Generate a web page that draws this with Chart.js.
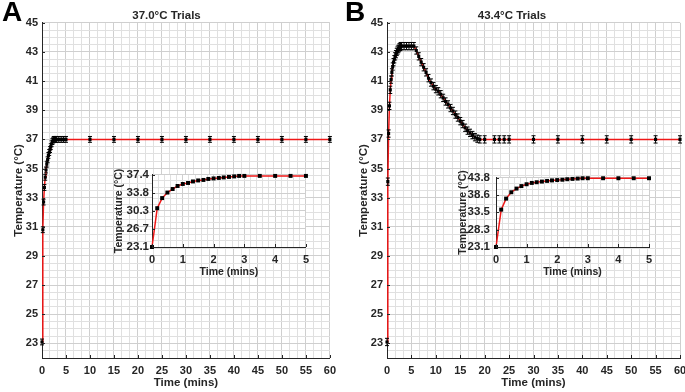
<!DOCTYPE html>
<html lang="en">
<head>
    <meta charset="UTF-8">
    <title>Temperature Trials</title>
    <style>
        body {
            margin: 0;
            background-color: #fff;
            overflow: hidden;
            width: 685px;
            height: 392px;
            position: relative;
            font-family: 'Liberation Sans', Arial, sans-serif;
        }
        .box {
            position: absolute;
        }
        .letter {
            position: absolute;
            font-weight: bold;
            font-size: 28px;
            line-height: 28px;
            color: #000;
        }
    </style>
</head>
<body>
    <div class="box" style="left:0;top:0;width:342px;height:392px"><canvas id="mainA"></canvas></div>
    <div class="box" style="left:344px;top:0;width:350px;height:392px"><canvas id="mainB"></canvas></div>
    <div class="box" style="left:100px;top:165px;width:215px;height:115px"><canvas id="insetA"></canvas></div>
    <div class="box" style="left:440px;top:165px;width:220px;height:115px"><canvas id="insetB"></canvas></div>
    <div class="letter" style="left:2px;top:-2px">A</div>
    <div class="letter" style="left:345px;top:-2px">B</div>

    <script src="https://cdn.jsdelivr.net/npm/chart.js"></script>
    <script>
        // tick labels
        const mainXTicks = [0, 5, 10, 15, 20, 25, 30, 35, 40, 45, 50, 55, 60];
        const mainYTicks = [23, 25, 27, 29, 31, 33, 35, 37, 39, 41, 43, 45];
        const insetXTicks = [0, 1, 2, 3, 4, 5];
        const insetYTicksA = [23.1, 26.7, 30.3, 33.8, 37.4];
        const insetYTicksB = [23.1, 28.3, 33.5, 38.6, 43.8];

        // panel A: 37.0 C trials (minutes, deg C)
        const timeA = [0, 0.17, 0.33, 0.5, 0.67, 0.83, 1, 1.17, 1.33, 1.5, 1.67, 1.83, 2, 2.17, 2.33, 2.5, 2.67, 2.83, 3,
            3.5, 4, 4.5, 5, 10, 15, 20, 25, 30, 35, 40, 45, 50, 55, 60];
        const tempA = [23.1, 30.8, 32.7, 33.7, 34.4, 34.9, 35.3, 35.6, 35.9, 36.1, 36.3, 36.5, 36.7, 36.85, 36.95, 37.0, 37.0, 37.0, 37.0,
            37.0, 37.0, 37.0, 37.0, 37.0, 37.0, 37.0, 37.0, 37.0, 37.0, 37.0, 37.0, 37.0, 37.0, 37.0];
        const errA = 0.2;

        const insetTimeA = [0, 0.17, 0.33, 0.5, 0.67, 0.83, 1, 1.17, 1.33, 1.5, 1.67, 1.83, 2, 2.17, 2.33, 2.5, 2.67, 2.83, 3, 3.5, 4, 4.5, 5];
        const insetTempA = [23.1, 30.8, 32.8, 33.9, 34.6, 35.2, 35.6, 35.8, 36.1, 36.3, 36.4, 36.6, 36.7, 36.8, 36.9, 37.0, 37.1, 37.2, 37.2,
            37.2, 37.2, 37.2, 37.2];

        // panel B: 43.4 C trials
        const timeB = [0, 0.17, 0.33, 0.5, 0.67, 0.83, 1, 1.17, 1.33, 1.5, 1.67, 1.83, 2, 2.17, 2.33, 2.5, 2.67, 2.83, 3,
            3.5, 4, 4.5, 5, 5.5,
            6, 6.5, 7, 7.5, 8, 8.5, 9, 9.5, 10, 10.5, 11, 11.5, 12, 12.5, 13, 13.5, 14, 14.5, 15, 15.5, 16, 16.5, 17, 17.5, 18, 18.5,
            19, 20, 22, 23, 24, 25, 30, 35, 40, 45, 50, 55, 60];
        const tempB = [23.1, 34.1, 37.4, 39.3, 40.4, 41.1, 41.6, 42.0, 42.3, 42.5, 42.7, 42.85, 43.0, 43.1, 43.2, 43.3, 43.35, 43.4, 43.4,
            43.4, 43.4, 43.4, 43.4, 43.4,
            43.1, 42.7, 42.3, 41.95, 41.6, 41.2, 40.9, 40.65, 40.45, 40.3, 40.1, 39.85, 39.6, 39.4, 39.15, 38.95, 38.7, 38.5, 38.25, 38.05,
            37.8, 37.6, 37.45, 37.3, 37.15, 37.05,
            37.0, 37.0, 37.0, 37.0, 37.0, 37.0, 37.0, 37.0, 37.0, 37.0, 37.0, 37.0, 37.0];
        const errB = 0.25;

        const insetTimeB = [0, 0.17, 0.33, 0.5, 0.67, 0.83, 1, 1.17, 1.33, 1.5, 1.67, 1.83, 2, 2.17, 2.33, 2.5, 2.67, 2.83, 3, 3.5, 4, 4.5, 5];
        const insetTempB = [23.1, 34.3, 37.6, 39.5, 40.6, 41.35, 41.9, 42.3, 42.5, 42.7, 42.9, 43.05, 43.15, 43.25, 43.4, 43.5, 43.6, 43.7, 43.7,
            43.7, 43.7, 43.7, 43.7];

        const INK = '#262626';
        const RED = '#f01818';
        Chart.defaults.font.family = "'Liberation Sans', Arial, sans-serif";
        Chart.defaults.font.weight = 'bold';
        Chart.defaults.color = INK;

        // major ticks plus n-1 minor ones in between (grid only), extended to min/max
        function withMinor(majors, n, min, max) {
            const out = [];
            const first = (majors[1] - majors[0]) / n;
            for (let v = majors[0] - first; v >= min - 1e-9; v -= first) out.unshift({value: v, maj: false});
            majors.forEach((m, i) => {
                out.push({value: m, maj: true});
                if (i < majors.length - 1) {
                    const step = (majors[i + 1] - m) / n;
                    for (let k = 1; k < n; k++) out.push({value: m + k * step, maj: false});
                }
            });
            const last = majors[majors.length - 1];
            const lastStep = (last - majors[majors.length - 2]) / n;
            for (let v = last + lastStep; v <= max + 1e-9; v += lastStep) out.push({value: v, maj: false});
            return out;
        }

        // error bars drawn through the chart scales
        const errorBars = {
            id: 'errorBars',
            afterDatasetsDraw(chart) {
                const {ctx, scales: {x, y}} = chart;
                chart.data.datasets.forEach(ds => {
                    if (!ds.err) return;
                    ctx.save();
                    ctx.strokeStyle = '#000';
                    ctx.lineWidth = 1;
                    ds.data.forEach(p => {
                        const px = x.getPixelForValue(p.x);
                        const top = y.getPixelForValue(p.y + ds.err);
                        const bot = y.getPixelForValue(p.y - ds.err);
                        ctx.beginPath();
                        ctx.moveTo(px, top); ctx.lineTo(px, bot);
                        ctx.moveTo(px - 2, top); ctx.lineTo(px + 2, top);
                        ctx.moveTo(px - 2, bot); ctx.lineTo(px + 2, bot);
                        ctx.stroke();
                    });
                    ctx.restore();
                });
            }
        };

        // small inward tick marks on the major ticks
        const inTicks = {
            id: 'inTicks',
            afterDraw(chart) {
                const {ctx, chartArea, scales: {x, y}} = chart;
                ctx.save();
                ctx.strokeStyle = INK;
                ctx.lineWidth = 1;
                ctx.beginPath();
                x.ticks.forEach(t => {
                    if (!t.maj) return;
                    const px = Math.round(x.getPixelForValue(t.value)) + 0.5;
                    ctx.moveTo(px, chartArea.bottom); ctx.lineTo(px, chartArea.bottom - 3);
                });
                y.ticks.forEach(t => {
                    if (!t.maj) return;
                    const py = Math.round(y.getPixelForValue(t.value)) + 0.5;
                    ctx.moveTo(chartArea.left, py); ctx.lineTo(chartArea.left + 3, py);
                });
                ctx.stroke();
                ctx.restore();
            }
        };

        // white plot area for the insets
        const whiteArea = {
            id: 'whiteArea',
            beforeDraw(chart) {
                const {ctx, chartArea: a} = chart;
                ctx.save();
                ctx.fillStyle = '#fff';
                ctx.fillRect(a.left, a.top, a.right - a.left, a.bottom - a.top);
                ctx.restore();
            }
        };

        function gridColor(c) {
            return c.tick && c.tick.maj ? '#cfcfcf' : '#e0e0e0';
        }

        function makeChart(id, o) {
            const data = o.time.map((t, i) => ({x: t, y: o.temp[i]}));
            return new Chart(document.getElementById(id), {
                type: 'line',
                data: {
                    datasets: [{
                        data: data,
                        err: o.err,
                        borderColor: RED,
                        borderWidth: 1.5,
                        pointStyle: 'rect',
                        pointRadius: o.pointR,
                        pointBackgroundColor: '#000',
                        pointBorderWidth: 0,
                        tension: 0,
                        clip: 6
                    }]
                },
                options: {
                    responsive: true,
                    maintainAspectRatio: false,
                    animation: false,
                    events: [],
                    layout: {padding: o.pad},
                    plugins: {
                        legend: {display: false},
                        tooltip: {enabled: false},
                        title: {
                            display: !!o.title,
                            text: o.title,
                            font: {size: 11.5, weight: 'bold'},
                            color: INK,
                            padding: {top: 9, bottom: 0}
                        }
                    },
                    scales: {
                        x: {
                            type: 'linear',
                            min: o.xMin, max: o.xMax,
                            afterBuildTicks: s => { s.ticks = withMinor(o.xTicks, o.xMinor, o.xMin, o.xMax); },
                            afterFit: s => { s.height = o.xH; },
                            ticks: {
                                autoSkip: false,
                                maxRotation: 0,
                                padding: 6,
                                font: {size: 11},
                                callback: (v, i, ticks) => ticks[i].maj ? String(Math.round(v)) : ''
                            },
                            grid: {color: gridColor, drawTicks: false, lineWidth: 1},
                            border: {color: INK, width: 1},
                            title: {
                                display: true,
                                text: 'Time (mins)',
                                font: {size: o.titleSize, weight: 'bold'},
                                padding: {top: 0, bottom: o.xTitlePad}
                            }
                        },
                        y: {
                            min: o.yMin, max: o.yMax,
                            afterBuildTicks: s => { s.ticks = withMinor(o.yTicks, o.yMinor, o.yMin, o.yMax); },
                            afterFit: s => { s.width = o.yW; },
                            ticks: {
                                autoSkip: false,
                                padding: o.yTickPad,
                                font: {size: o.yTickSize},
                                callback: (v, i, ticks) => ticks[i].maj ? o.fmt(v) : ''
                            },
                            grid: {color: gridColor, drawTicks: false, lineWidth: 1},
                            border: {color: INK, width: 1},
                            title: {
                                display: true,
                                text: 'Temperature (°C)',
                                font: {size: o.titleSize, weight: 'bold'},
                                padding: {top: o.yTitlePad, bottom: 0}
                            }
                        }
                    }
                },
                plugins: o.inset ? [whiteArea, inTicks] : [errorBars, inTicks]
            });
        }

        const intFmt = v => String(Math.round(v));
        const oneDec = v => v.toFixed(1);

        makeChart('mainA', {
            time: timeA, temp: tempA, err: errA, pointR: 2.2, title: '37.0°C Trials',
            pad: {left: 0, right: 9, top: 0, bottom: 0},
            xMin: 0, xMax: 60, xTicks: mainXTicks, xMinor: 3, xH: 34, xTitlePad: 2,
            yMin: 22, yMax: 45, yTicks: mainYTicks, yMinor: 4, yW: 42, yTickPad: 4, yTitlePad: 12, yTickSize: 11,
            titleSize: 11.5, fmt: intFmt
        });
        makeChart('mainB', {
            time: timeB, temp: tempB, err: errB, pointR: 2.2, title: '43.4°C Trials',
            pad: {left: 0, right: 14, top: 0, bottom: 0},
            xMin: 0, xMax: 60, xTicks: mainXTicks, xMinor: 3, xH: 34, xTitlePad: 2,
            yMin: 22, yMax: 45, yTicks: mainYTicks, yMinor: 4, yW: 43, yTickPad: 4, yTitlePad: 12.5, yTickSize: 11,
            titleSize: 11.5, fmt: intFmt
        });
        makeChart('insetA', {
            time: insetTimeA, temp: insetTempA, err: null, pointR: 2.8, title: '', inset: true,
            pad: {left: 0, right: 9, top: 9, bottom: 0},
            xMin: 0, xMax: 5, xTicks: insetXTicks, xMinor: 5, xH: 33, xTitlePad: 1.5,
            yMin: 23.1, yMax: 37.4, yTicks: insetYTicksA, yMinor: 3, yW: 52, yTickPad: 3, yTitlePad: 12.5, yTickSize: 11.5,
            titleSize: 10.5, fmt: oneDec
        });
        makeChart('insetB', {
            time: insetTimeB, temp: insetTempB, err: null, pointR: 2.8, title: '', inset: true,
            pad: {left: 0, right: 11, top: 9, bottom: 0},
            xMin: 0, xMax: 5, xTicks: insetXTicks, xMinor: 5, xH: 33, xTitlePad: 1.5,
            yMin: 23.1, yMax: 43.8, yTicks: insetYTicksB, yMinor: 3, yW: 56, yTickPad: 6, yTitlePad: 16.5, yTickSize: 11.5,
            titleSize: 10.5, fmt: oneDec
        });
    </script>
</body>
</html>
